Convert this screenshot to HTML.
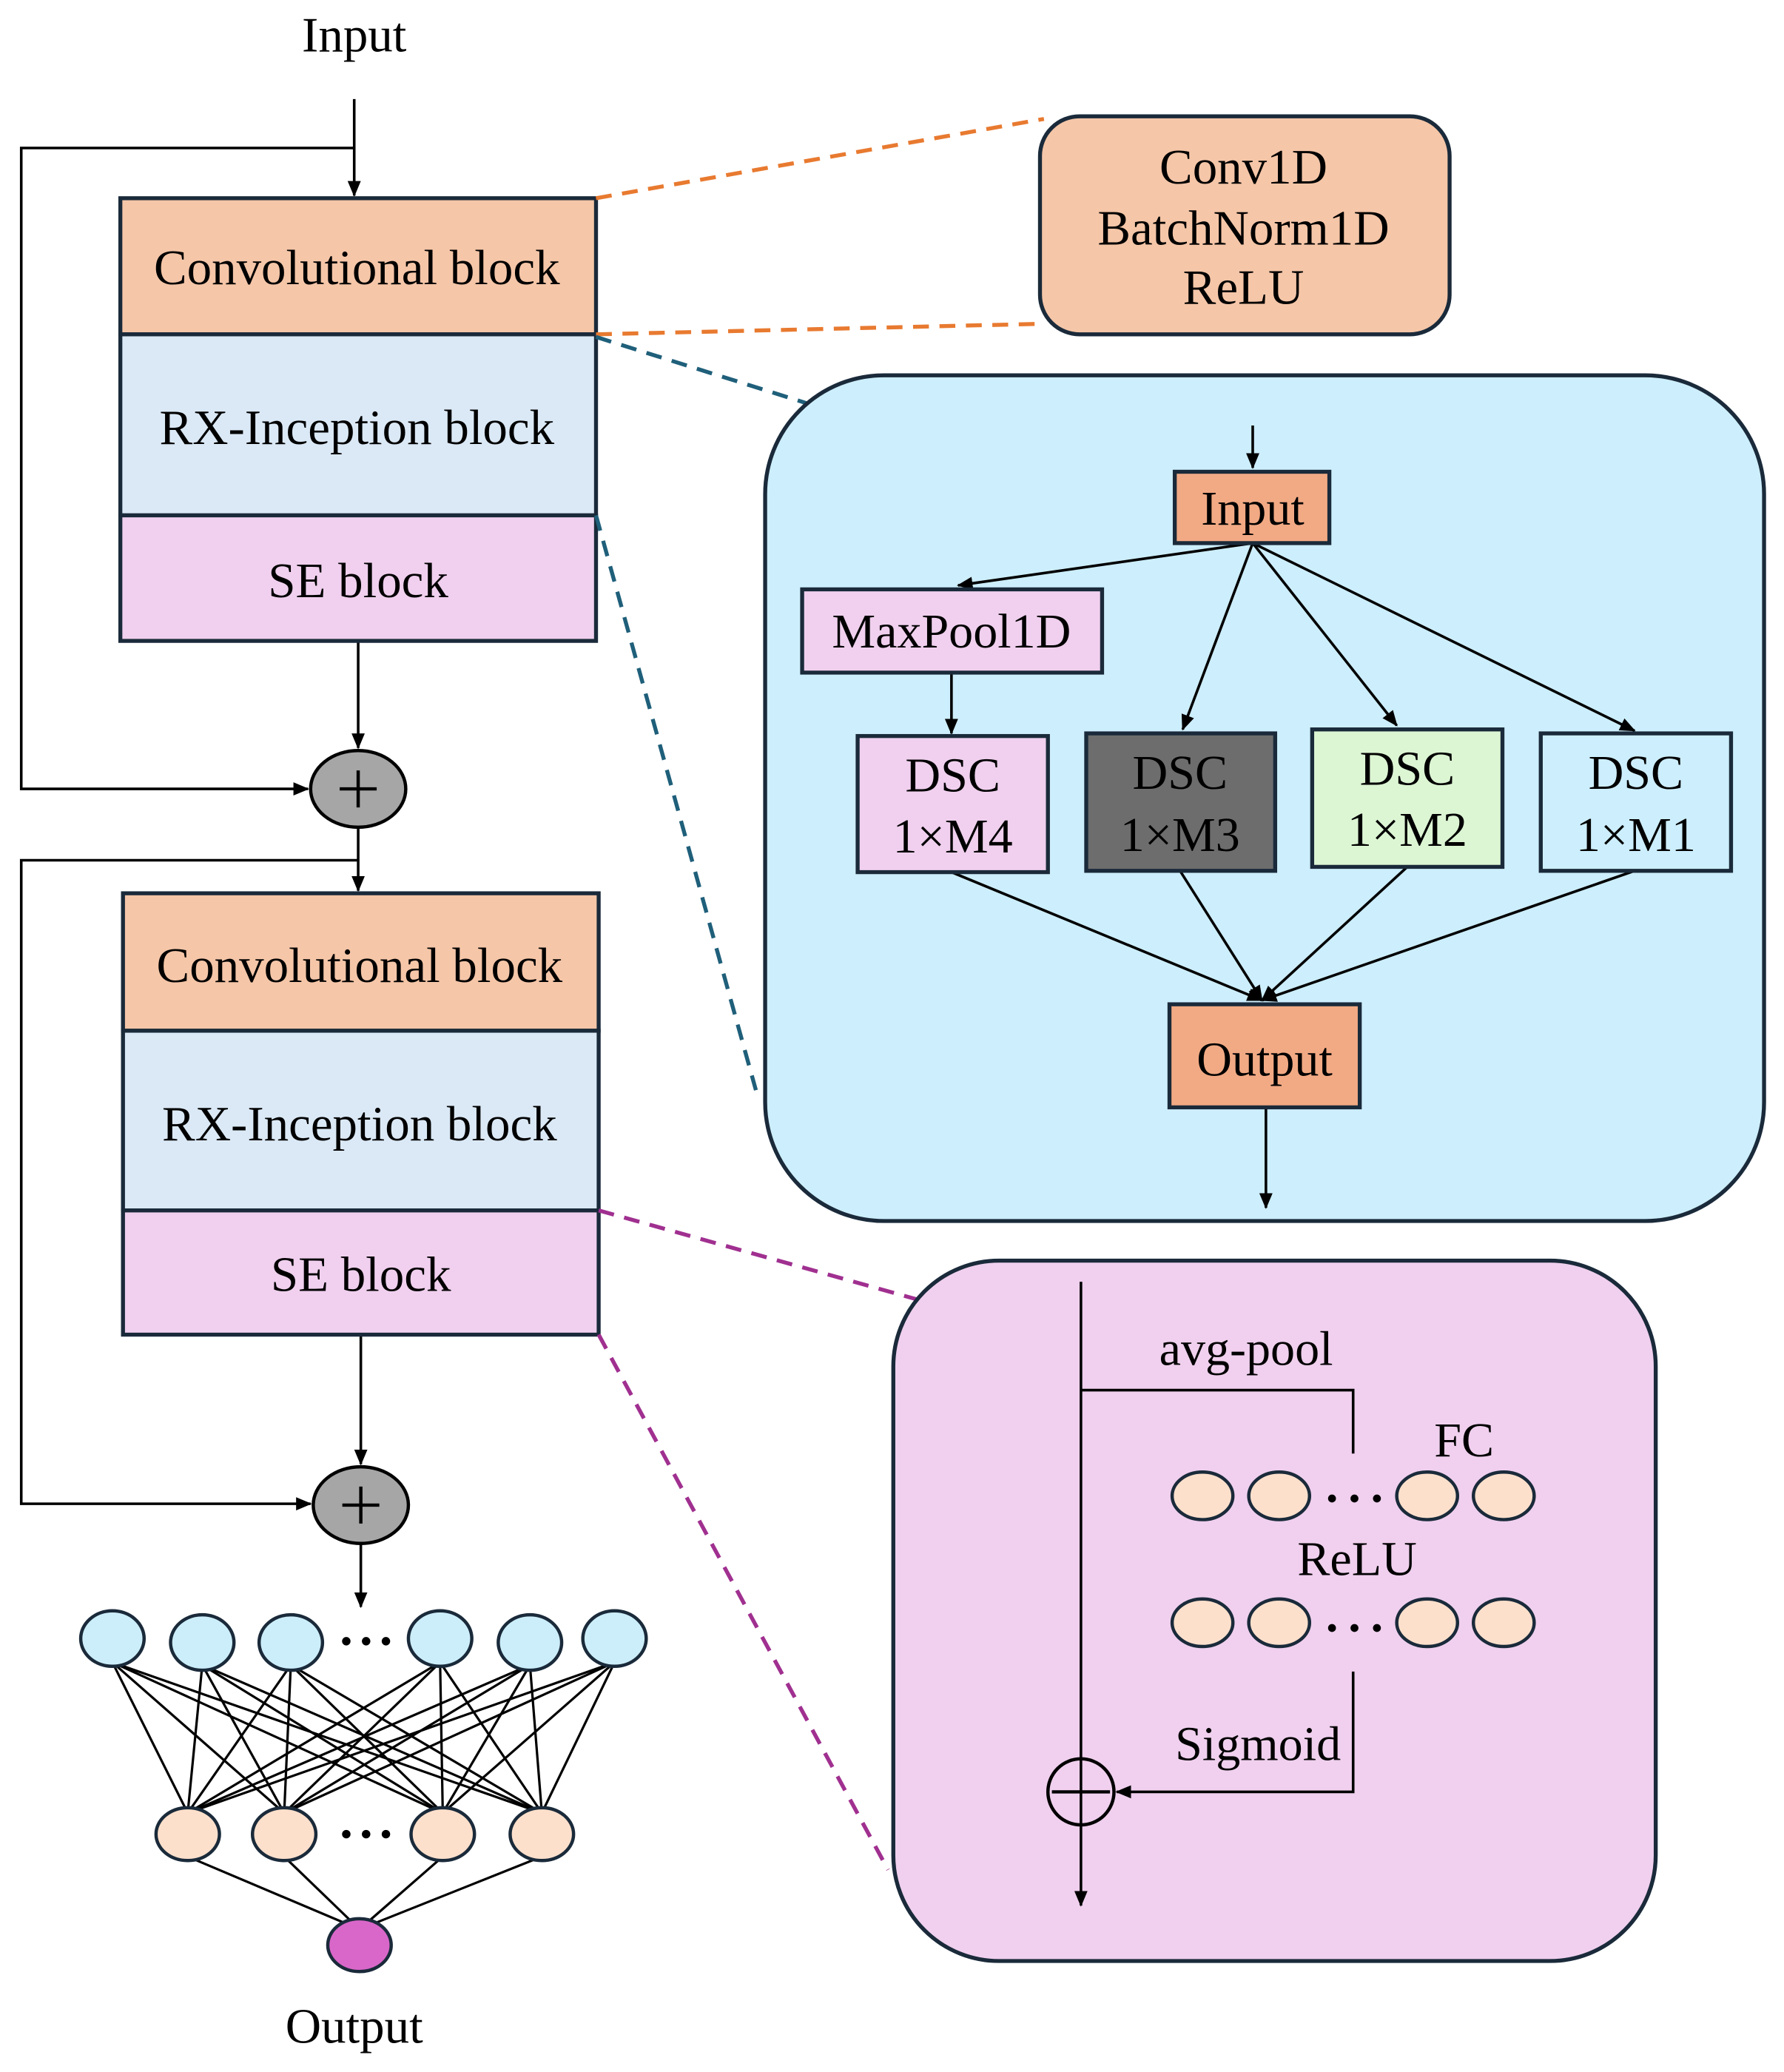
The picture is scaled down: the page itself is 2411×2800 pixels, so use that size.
<!DOCTYPE html>
<html><head><meta charset="utf-8"><style>html,body{margin:0;padding:0;background:#fff}svg{display:block}</style></head>
<body>
<svg width="2411" height="2800" viewBox="0 0 1350 1568" xmlns="http://www.w3.org/2000/svg" font-family="Liberation Serif, serif">
<defs>
<marker id="a" markerWidth="12" markerHeight="12" refX="11" refY="6" orient="auto" markerUnits="userSpaceOnUse"><path d="M0,1 L12,6 L0,11 z" fill="#000"/></marker>
</defs>
<g stroke="#000" stroke-width="2" fill="none">
<line x1="268" y1="75" x2="268" y2="148" marker-end="url(#a)"/>
<polyline points="268,112 16,112 16,597 233,597" marker-end="url(#a)"/>
<line x1="271" y1="485" x2="271" y2="566" marker-end="url(#a)"/>
<line x1="271" y1="626" x2="271" y2="674" marker-end="url(#a)"/>
<polyline points="271,651 16,651 16,1138 235,1138" marker-end="url(#a)"/>
<line x1="273" y1="1010" x2="273" y2="1108" marker-end="url(#a)"/>
<line x1="273" y1="1168" x2="273" y2="1216" marker-end="url(#a)"/>
</g>
<g stroke="#1a2a3a" stroke-width="3">
<rect x="91" y="150" width="360" height="103" fill="#f5c6a8"/>
<rect x="91" y="253" width="360" height="137" fill="#dbe9f6"/>
<rect x="91" y="390" width="360" height="95" fill="#f0d0ee"/>
<rect x="93" y="676" width="360" height="104" fill="#f5c6a8"/>
<rect x="93" y="780" width="360" height="136" fill="#dbe9f6"/>
<rect x="93" y="916" width="360" height="94" fill="#f0d0ee"/>
</g>
<g font-size="37.5" text-anchor="middle" fill="#000">
<text x="268" y="39">Input</text>
<text x="270" y="215">Convolutional block</text>
<text x="270" y="336">RX-Inception block</text>
<text x="271" y="452">SE block</text>
<text x="272" y="743">Convolutional block</text>
<text x="272" y="863">RX-Inception block</text>
<text x="273" y="977">SE block</text>
<text x="268" y="1546">Output</text>
</g>
<g stroke="#000" stroke-width="2.5">
<ellipse cx="271" cy="597" rx="36" ry="29" fill="#a6a6a6"/>
<line x1="257" y1="597" x2="285" y2="597"/><line x1="271" y1="583" x2="271" y2="611"/>
<ellipse cx="273" cy="1139" rx="36" ry="29" fill="#a6a6a6"/>
<line x1="259" y1="1139" x2="287" y2="1139"/><line x1="273" y1="1125" x2="273" y2="1153"/>
</g>
<g stroke="#000" stroke-width="1.8">
<line x1="85" y1="1258" x2="142" y2="1372"/><line x1="85" y1="1258" x2="215" y2="1372"/><line x1="85" y1="1258" x2="335" y2="1372"/><line x1="85" y1="1258" x2="410" y2="1372"/>
<line x1="153" y1="1260" x2="142" y2="1372"/><line x1="153" y1="1260" x2="215" y2="1372"/><line x1="153" y1="1260" x2="335" y2="1372"/><line x1="153" y1="1260" x2="410" y2="1372"/>
<line x1="220" y1="1260" x2="142" y2="1372"/><line x1="220" y1="1260" x2="215" y2="1372"/><line x1="220" y1="1260" x2="335" y2="1372"/><line x1="220" y1="1260" x2="410" y2="1372"/>
<line x1="333" y1="1258" x2="142" y2="1372"/><line x1="333" y1="1258" x2="215" y2="1372"/><line x1="333" y1="1258" x2="335" y2="1372"/><line x1="333" y1="1258" x2="410" y2="1372"/>
<line x1="401" y1="1260" x2="142" y2="1372"/><line x1="401" y1="1260" x2="215" y2="1372"/><line x1="401" y1="1260" x2="335" y2="1372"/><line x1="401" y1="1260" x2="410" y2="1372"/>
<line x1="465" y1="1258" x2="142" y2="1372"/><line x1="465" y1="1258" x2="215" y2="1372"/><line x1="465" y1="1258" x2="335" y2="1372"/><line x1="465" y1="1258" x2="410" y2="1372"/>
<line x1="142" y1="1405" x2="272" y2="1460"/><line x1="215" y1="1405" x2="272" y2="1460"/><line x1="335" y1="1405" x2="272" y2="1460"/><line x1="410" y1="1405" x2="272" y2="1460"/>
</g>
<g stroke="#1a2a3a" stroke-width="2.5" fill="#cceefa">
<ellipse cx="85" cy="1240" rx="24" ry="21"/><ellipse cx="153" cy="1243" rx="24" ry="21"/><ellipse cx="220" cy="1243" rx="24" ry="21"/>
<ellipse cx="333" cy="1240" rx="24" ry="21"/><ellipse cx="401" cy="1243" rx="24" ry="21"/><ellipse cx="465" cy="1240" rx="24" ry="21"/>
</g>
<g stroke="#1a2a3a" stroke-width="2.5" fill="#fde0cc">
<ellipse cx="142" cy="1388" rx="24" ry="20"/><ellipse cx="215" cy="1388" rx="24" ry="20"/><ellipse cx="335" cy="1388" rx="24" ry="20"/><ellipse cx="410" cy="1388" rx="24" ry="20"/>
</g>
<ellipse cx="272" cy="1472" rx="24" ry="20" fill="#d967c9" stroke="#1a2a3a" stroke-width="2.5"/>
<g fill="#000"><circle cx="262" cy="1242" r="3.2"/><circle cx="277" cy="1242" r="3.2"/><circle cx="292" cy="1242" r="3.2"/>
<circle cx="262" cy="1388" r="3.2"/><circle cx="277" cy="1388" r="3.2"/><circle cx="292" cy="1388" r="3.2"/></g>
<g stroke-width="3" stroke-dasharray="12,8" fill="none">
<line x1="451" y1="150" x2="790" y2="90" stroke="#e87a30"/>
<line x1="451" y1="253" x2="790" y2="245" stroke="#e87a30"/>
<line x1="451" y1="255" x2="610" y2="305" stroke="#1f5f7a"/>
<line x1="451" y1="390" x2="572" y2="825" stroke="#1f5f7a"/>
<line x1="453" y1="916" x2="700" y2="985" stroke="#a03090"/>
<line x1="453" y1="1010" x2="672" y2="1415" stroke="#a03090"/>
</g>
<rect x="787" y="88" width="310" height="165" rx="30" fill="#f5c6a8" stroke="#1a2a3a" stroke-width="3"/>
<g font-size="37.5" text-anchor="middle"><text x="941" y="139">Conv1D</text><text x="941" y="185">BatchNorm1D</text><text x="941" y="230">ReLU</text></g>
<rect x="579" y="284" width="756" height="640" rx="90" fill="#cdeefc" stroke="#1a2a3a" stroke-width="3"/>
<g stroke="#000" stroke-width="2" fill="none">
<line x1="948" y1="322" x2="948" y2="354" marker-end="url(#a)"/>
<line x1="948" y1="411" x2="725" y2="443" marker-end="url(#a)"/>
<line x1="948" y1="411" x2="895" y2="552" marker-end="url(#a)"/>
<line x1="948" y1="411" x2="1057" y2="549" marker-end="url(#a)"/>
<line x1="948" y1="411" x2="1237" y2="553" marker-end="url(#a)"/>
<line x1="720" y1="509" x2="720" y2="555" marker-end="url(#a)"/>
<line x1="720" y1="660" x2="955" y2="757" marker-end="url(#a)"/>
<line x1="893" y1="659" x2="955" y2="757" marker-end="url(#a)"/>
<line x1="1065" y1="656" x2="955" y2="757" marker-end="url(#a)"/>
<line x1="1237" y1="659" x2="955" y2="757" marker-end="url(#a)"/>
<line x1="958" y1="838" x2="958" y2="914" marker-end="url(#a)"/>
</g>
<g stroke="#1a2a3a" stroke-width="3">
<rect x="889" y="357" width="117" height="54" fill="#f2aa84"/>
<rect x="607" y="446" width="227" height="63" fill="#f0d0ee"/>
<rect x="649" y="557" width="144" height="103" fill="#f0d0ee"/>
<rect x="822" y="555" width="143" height="104" fill="#6d6d6d"/>
<rect x="993" y="552" width="144" height="104" fill="#dcf5d3"/>
<rect x="1166" y="555" width="144" height="104" fill="#cdeefc"/>
<rect x="885" y="760" width="144" height="78" fill="#f2aa84"/>
</g>
<g font-size="37" text-anchor="middle">
<text x="948" y="397">Input</text>
<text x="720" y="490">MaxPool1D</text>
<text x="721" y="599">DSC</text><text x="721" y="645">1×M4</text>
<text x="893" y="597">DSC</text><text x="893" y="644">1×M3</text>
<text x="1065" y="594">DSC</text><text x="1065" y="640">1×M2</text>
<text x="1238" y="597">DSC</text><text x="1238" y="644">1×M1</text>
<text x="957" y="814">Output</text>
</g>
<rect x="676" y="954" width="577" height="530" rx="80" fill="#f0d0ee" stroke="#1a2a3a" stroke-width="3"/>
<g stroke="#000" stroke-width="2" fill="none">
<line x1="818" y1="970" x2="818" y2="1442" marker-end="url(#a)"/>
<polyline points="818,1052 1024,1052 1024,1100"/>
<polyline points="1024,1265 1024,1356 845,1356" marker-end="url(#a)"/>
</g>
<g stroke="#1a2a3a" stroke-width="2.5" fill="#fde0cc">
<ellipse cx="910" cy="1132" rx="23" ry="18"/><ellipse cx="968" cy="1132" rx="23" ry="18"/><ellipse cx="1080" cy="1132" rx="23" ry="18"/><ellipse cx="1138" cy="1132" rx="23" ry="18"/>
<ellipse cx="910" cy="1228" rx="23" ry="18"/><ellipse cx="968" cy="1228" rx="23" ry="18"/><ellipse cx="1080" cy="1228" rx="23" ry="18"/><ellipse cx="1138" cy="1228" rx="23" ry="18"/>
</g>
<g fill="#000"><circle cx="1008" cy="1134" r="3"/><circle cx="1025" cy="1134" r="3"/><circle cx="1042" cy="1134" r="3"/>
<circle cx="1008" cy="1232" r="3"/><circle cx="1025" cy="1232" r="3"/><circle cx="1042" cy="1232" r="3"/></g>
<g stroke="#000" stroke-width="2.5" fill="none">
<circle cx="818" cy="1356" r="25"/><line x1="796" y1="1356" x2="840" y2="1356"/>
</g>
<g font-size="37" text-anchor="middle">
<text x="943" y="1033">avg-pool</text>
<text x="1108" y="1102">FC</text>
<text x="1027" y="1192">ReLU</text>
<text x="952" y="1332">Sigmoid</text>
</g>
</svg>
</body></html>
